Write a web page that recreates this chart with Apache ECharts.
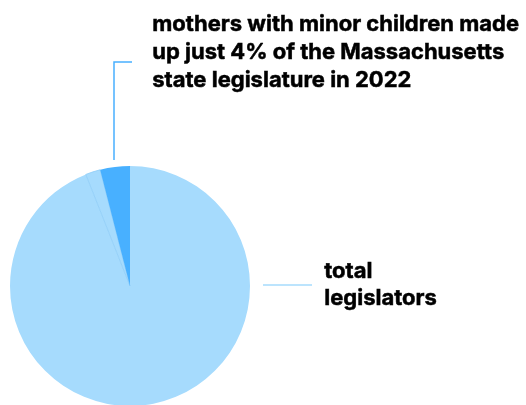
<!DOCTYPE html>
<html>
<head>
<meta charset="utf-8">
<script src="https://cdn.jsdelivr.net/npm/echarts@6/dist/echarts.min.js"></script>
<style>html,body{margin:0;padding:0;background:#fff}#c{width:526px;height:405px}</style>
</head>
<body>
<div id="c"></div>
<script>
const categories = ['other legislators', 'other', 'mothers with minor children'];
const seats = [188, 4, 8];
const sliceColors = ['#A6DBFD', '#A6DBFD', '#48B0FF'];
const annotationTexts = ['mothers with minor children made\nup just 4% of the Massachusetts\nstate legislature in 2022', 'total\nlegislators'];

const chart = echarts.init(document.getElementById('c'), null, {renderer: 'canvas'});
const font = 'Inter, Roboto, "Liberation Sans", sans-serif';
chart.setOption({
  animation: false,
  series: [{
    type: 'pie',
    center: [130, 286],
    radius: 120,
    startAngle: 90,
    clockwise: true,
    label: {show: false},
    labelLine: {show: false},
    emphasis: {disabled: true},
    data: categories.map((c, i) => ({
      name: c, value: seats[i],
      itemStyle: {color: sliceColors[i], borderWidth: i === 1 ? 0.8 : 0, borderColor: '#8CCBF8'}
    }))
  }],
  graphic: [
    {type: 'polyline', shape: {points: [[114, 160], [114, 62], [132, 62]]}, style: {stroke: '#48B0FF', lineWidth: 1.5, fill: null}},
    {type: 'line', shape: {x1: 263, y1: 285, x2: 312, y2: 285}, style: {stroke: '#A6DBFD', lineWidth: 1.5}},
    {type: 'text', left: 152, top: 10, style: {text: annotationTexts[0], font: 'bold 22px ' + font, lineHeight: 28, fill: '#000', stroke: '#000', lineWidth: 0.5}},
    {type: 'text', left: 324, top: 258, style: {text: annotationTexts[1], font: 'bold 22px ' + font, lineHeight: 27, fill: '#000', stroke: '#000', lineWidth: 0.5}}
  ]
});
</script>
</body>
</html>
